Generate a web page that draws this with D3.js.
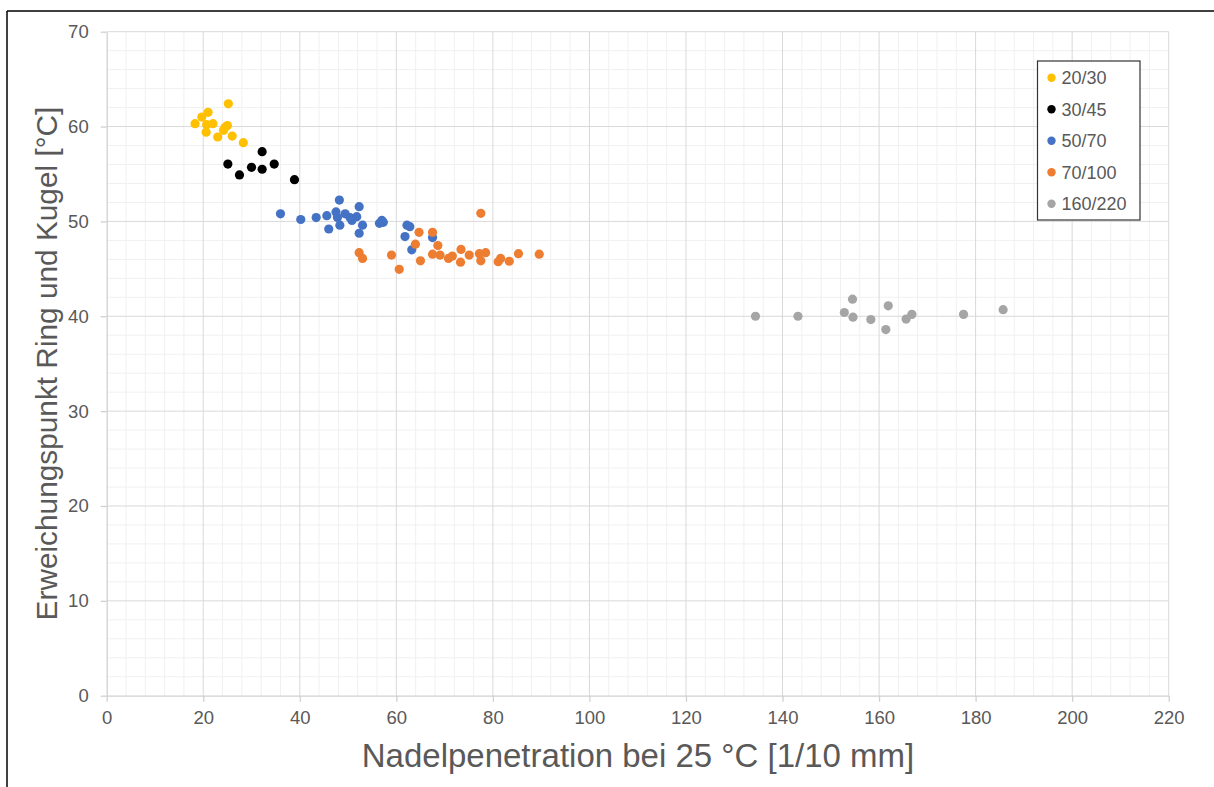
<!DOCTYPE html>
<html>
<head>
<meta charset="utf-8">
<script src="https://cdn.jsdelivr.net/npm/d3@7"></script>
<style>
  html, body { margin: 0; padding: 0; background: #fff; }
  svg { display: block; font-family: "Liberation Sans", Arial, sans-serif; }
</style>
</head>
<body>
<svg id="chart" width="1214" height="787"></svg>
<script>
// Penetration grades (legend order) and their marker colours
const grades = ["20/30", "30/45", "50/70", "70/100", "160/220"];
const gradeColors = ["#FFC000", "#000000", "#4472C4", "#ED7D31", "#A5A5A5"];

// Needle penetration [1/10 mm] and ring-and-ball softening point [°C] per grade
const pen_20_30 = [25.2, 21.0, 19.7, 18.3, 20.7, 22.0, 20.6, 23.0, 24.2, 25.0, 26.0, 28.3, 24.5];
const rk_20_30  = [62.4, 61.5, 61.0, 60.3, 60.2, 60.3, 59.4, 58.9, 59.6, 60.1, 59.0, 58.3, 59.9];

const pen_30_45 = [32.2, 25.1, 27.5, 30.0, 32.2, 34.7, 38.9];
const rk_30_45  = [57.35, 56.05, 54.9, 55.7, 55.5, 56.05, 54.4];

const pen_50_70 = [36.0, 40.2, 43.4, 48.2, 52.3, 45.6, 47.5, 49.4, 46.0, 48.3, 50.8, 51.8, 50.4, 53.0, 52.3,
                   56.5, 57.0, 57.3, 62.2, 62.8, 61.8, 67.5, 63.2, 47.8];
const rk_50_70  = [50.8, 50.2, 50.4, 52.25, 51.55, 50.6, 51.0, 50.8, 49.2, 49.6, 50.1, 50.5, 50.4, 49.6, 48.75,
                   49.8, 50.1, 49.9, 49.6, 49.45, 48.4, 48.3, 47.0, 50.4];

const pen_70_100 = [77.5, 64.7, 67.5, 63.95, 68.6, 52.3, 53.0, 59.0, 60.6, 65.0, 67.5, 69.05, 70.8, 71.6, 73.4,
                    73.3, 75.1, 77.2, 78.5, 77.5, 81.1, 81.6, 83.4, 85.3, 89.6];
const rk_70_100  = [50.85, 48.85, 48.85, 47.6, 47.45, 46.7, 46.1, 46.45, 44.95, 45.85, 46.55, 46.45, 46.1, 46.35, 47.05,
                    45.7, 46.45, 46.6, 46.7, 45.85, 45.75, 46.1, 45.8, 46.6, 46.55];

const pen_160_220 = [134.4, 143.2, 152.8, 154.5, 154.6, 158.3, 161.9, 161.4, 165.6, 166.8, 177.5, 185.7];
const rk_160_220  = [40.0, 40.0, 40.4, 41.8, 39.9, 39.65, 41.1, 38.6, 39.7, 40.2, 40.2, 40.7];

const xTicks = [0, 20, 40, 60, 80, 100, 120, 140, 160, 180, 200, 220];
const yTicks = [0, 10, 20, 30, 40, 50, 60, 70];

const xTitle = "Nadelpenetration bei 25 °C [1/10 mm]";
const yTitle = "Erweichungspunkt Ring und Kugel [°C]";

const seriesPen = [pen_20_30, pen_30_45, pen_50_70, pen_70_100, pen_160_220];
const seriesRk  = [rk_20_30, rk_30_45, rk_50_70, rk_70_100, rk_160_220];

const series = grades.map((g, i) => ({
  name: g,
  color: gradeColors[i],
  points: seriesPen[i].map((p, j) => ({ x: p, y: seriesRk[i][j] }))
}));

const svg = d3.select("#chart");
const plot = { left: 106.7, right: 1168.7, top: 31.7, bottom: 695.7 };

const x = d3.scaleLinear().domain([0, 220]).range([plot.left, plot.right]);
const y = d3.scaleLinear().domain([0, 70]).range([plot.bottom, plot.top]);

// outer frame (top and left edges visible)
svg.append("line").attr("x1", 7).attr("x2", 1214).attr("y1", 11).attr("y2", 11)
  .attr("stroke", "#000").attr("stroke-width", 1.5);
svg.append("line").attr("x1", 7).attr("x2", 7).attr("y1", 11).attr("y2", 787)
  .attr("stroke", "#000").attr("stroke-width", 1.5);

// minor grid
const minorX = d3.range(0, 221, 4).filter(v => v % 20 !== 0);
const minorY = d3.range(0, 71, 2).filter(v => v % 10 !== 0);
const grid = svg.append("g");
grid.selectAll(".mx").data(minorX).join("line")
  .attr("x1", d => x(d)).attr("x2", d => x(d))
  .attr("y1", plot.top).attr("y2", plot.bottom)
  .attr("stroke", "#f0f0f0").attr("stroke-width", 1);
grid.selectAll(".my").data(minorY).join("line")
  .attr("x1", plot.left).attr("x2", plot.right)
  .attr("y1", d => y(d)).attr("y2", d => y(d))
  .attr("stroke", "#f0f0f0").attr("stroke-width", 1);

// major grid
grid.selectAll(".gx").data(xTicks.slice(1)).join("line")
  .attr("x1", d => x(d)).attr("x2", d => x(d))
  .attr("y1", plot.top).attr("y2", plot.bottom)
  .attr("stroke", "#d9d9d9").attr("stroke-width", 1);
grid.selectAll(".gy").data(yTicks.slice(1)).join("line")
  .attr("x1", plot.left).attr("x2", plot.right)
  .attr("y1", d => y(d)).attr("y2", d => y(d))
  .attr("stroke", "#d9d9d9").attr("stroke-width", 1);

// axes
const xAxis = svg.append("g").attr("transform", `translate(0,${plot.bottom})`)
  .call(d3.axisBottom(x).tickValues(xTicks).tickSizeInner(6).tickSizeOuter(0).tickPadding(9));
const yAxis = svg.append("g").attr("transform", `translate(${plot.left},0)`)
  .call(d3.axisLeft(y).tickValues(yTicks).tickSizeInner(6).tickSizeOuter(0).tickPadding(12));
[xAxis, yAxis].forEach(a => {
  a.select(".domain").attr("stroke", "#d0d0d0").attr("stroke-width", 1.3);
  a.selectAll(".tick line").attr("stroke", "#d0d0d0").attr("stroke-width", 1.3);
  a.selectAll(".tick text").attr("fill", "#595959")
    .style("font-family", "'Liberation Sans', Arial, sans-serif").style("font-size", "18.5px");
});

// data points
series.forEach(s => {
  svg.append("g").selectAll("circle").data(s.points).join("circle")
    .attr("cx", d => x(d.x)).attr("cy", d => y(d.y)).attr("r", 4.6)
    .attr("fill", s.color);
});

// axis titles
svg.append("text").attr("x", 638).attr("y", 767).attr("text-anchor", "middle")
  .attr("fill", "#595959").style("font-size", "33px").text(xTitle);
svg.append("text").attr("transform", "translate(56.5,363.5) rotate(-90)").attr("text-anchor", "middle")
  .attr("fill", "#595959").style("font-size", "29.8px").text(yTitle);

// legend
const lg = svg.append("g");
lg.append("rect").attr("x", 1037.5).attr("y", 61).attr("width", 102.5).attr("height", 159)
  .attr("fill", "#fff").attr("stroke", "#333").attr("stroke-width", 1.2);
const rowY = d3.scalePoint().domain(grades).range([77.7, 203.7]);
grades.forEach((g, i) => {
  lg.append("circle").attr("cx", 1051.5).attr("cy", rowY(g)).attr("r", 4.2).attr("fill", gradeColors[i]);
  lg.append("text").attr("x", 1061.5).attr("y", rowY(g)).attr("dy", "0.35em")
    .attr("fill", "#595959").style("font-size", "18px").text(g);
});
</script>
</body>
</html>
